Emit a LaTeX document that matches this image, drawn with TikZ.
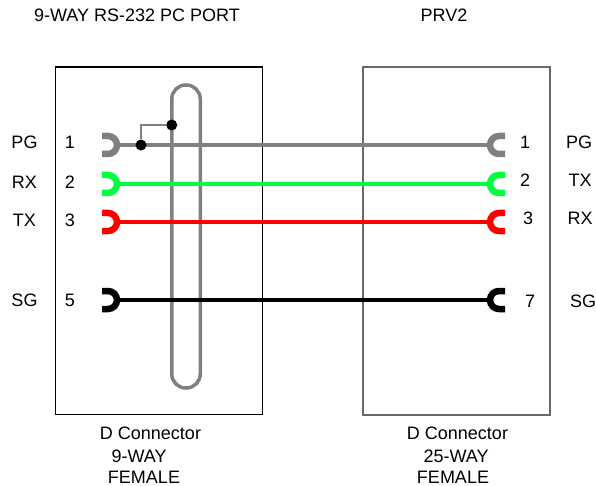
\documentclass[tikz,border=0pt]{standalone}
\usepackage{fontspec}
\setmainfont{Liberation Sans}
\begin{document}
\begin{tikzpicture}[x=1pt,y=-1pt,
  font=\fontsize{18}{22}\selectfont,
  lbl/.style={inner sep=0pt, anchor=center},
  boxL/.style={draw=black, line width=1.2pt, minimum width=207pt, minimum height=347pt, anchor=north west, inner sep=0pt},
  boxR/.style={draw=boxgray, line width=2pt, minimum width=187pt, minimum height=347pt, anchor=north west, inner sep=0pt},
  shieldloop/.style={draw=wgray, line width=3.5pt, rounded corners=14pt, minimum width=28.5pt, minimum height=303pt, inner sep=0pt},
  wire/.style={line width=3.5pt},
  jack/.style={line width=6.5pt},
  dot/.style={circle, fill=black, inner sep=0pt, minimum size=11pt},
  tap/.style={draw=wgray, line width=1.8pt},
  pics/jackL/.style={code={\draw[jack,#1] (-18,-9) -- (-12,-9) arc[start angle=-90,end angle=90,radius=9] -- (-18,9);}},
  pics/jackR/.style={code={\draw[jack,#1] (18,-9) -- (12,-9) arc[start angle=-90,end angle=-270,radius=9] -- (18,9);}}
]
\definecolor{wgray}{RGB}{128,128,128}
\definecolor{boxgray}{RGB}{105,105,105}
\definecolor{wgreen}{RGB}{0,255,64}
\definecolor{wred}{RGB}{255,0,0}
\useasboundingbox (0,0) rectangle (596,486);

% boxes
\node[boxL] (lbox) at (55,66.5) {};
\node[boxR] (rbox) at (362,66.5) {};

% shield loop
\node[shieldloop] (shield) at (186,236.5) {};

% wire end coordinates
\coordinate (L1) at (120,145);
\coordinate (R1) at (487,145);
\coordinate (L2) at (120,184);
\coordinate (R2) at (487,184);
\coordinate (L3) at (120,222);
\coordinate (R3) at (487,222);
\coordinate (L5) at (120,300);
\coordinate (R7) at (487,300);

% wires
\draw[wire, wgray] (L1) -- (R1);
\draw[wire, wgreen] (L2) -- (R2);
\draw[wire, wred] (L3) -- (R3);
\draw[wire, black] (L5) -- (R7);

% jacks
\pic at (L1) {jackL=wgray};
\pic at (L2) {jackL=wgreen};
\pic at (L3) {jackL=wred};
\pic at (L5) {jackL=black};
\pic at (R1) {jackR=wgray};
\pic at (R2) {jackR=wgreen};
\pic at (R3) {jackR=wred};
\pic at (R7) {jackR=black};

% shield tap
\node[dot] (d1) at (141,145) {};
\node[dot] (d2) at (171.75,125) {};
\draw[tap] (d1.north) |- (d2.west);

% titles
\node[lbl] (t1) at (137,15) {9-WAY RS-232 PC PORT};
\node[lbl] (t2) at (444,15) {PRV2};

% left labels
\node[lbl] (lpg) at (24.5,142) {PG};
\node[lbl] (lrx) at (24.5,182) {RX};
\node[lbl] (ltx) at (24.5,220) {TX};
\node[lbl] (lsg) at (24.5,300) {SG};
\node[lbl] (ln1) at (70,142) {1};
\node[lbl] (ln2) at (70,182) {2};
\node[lbl] (ln3) at (70,220) {3};
\node[lbl] (ln5) at (70,300) {5};

% right labels
\node[lbl] (rn1) at (525,142) {1};
\node[lbl] (rn2) at (525,180) {2};
\node[lbl] (rn3) at (528,218) {3};
\node[lbl] (rn7) at (530,301) {7};
\node[lbl] (rpg) at (579,142) {PG};
\node[lbl] (rtx) at (580,180) {TX};
\node[lbl] (rrx) at (580,218) {RX};
\node[lbl] (rsg) at (583,301) {SG};

% bottom captions
\node[lbl] (lc1) at (150.5,433) {D Connector};
\node[lbl] (lc2) at (139,456) {9-WAY};
\node[lbl] (lc3) at (144,477) {FEMALE};
\node[lbl] (rc1) at (457.5,433) {D Connector};
\node[lbl] (rc2) at (456,456) {25-WAY};
\node[lbl] (rc3) at (453,477) {FEMALE};
\end{tikzpicture}
\end{document}
